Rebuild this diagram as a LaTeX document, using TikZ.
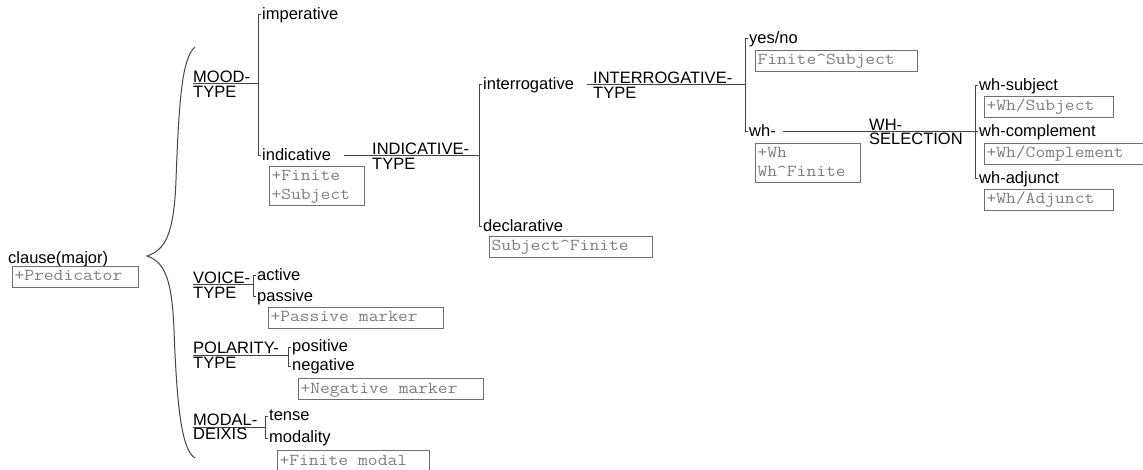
\documentclass[tikz,border=0pt]{standalone}
\usepackage{fontspec}
\setmainfont{Liberation Sans}
\setmonofont{Latin Modern Mono}[FakeStretch = 1.14]
\definecolor{gristrazo}{HTML}{454545}
\definecolor{grisglosa}{HTML}{7E7E7E}
\definecolor{griscaja}{HTML}{707070}
% espacio de una letra en la fuente de las glosas
\newcommand{\hueco}{\hspace*{0.6em}}

\begin{document}
\begin{tikzpicture}[x = 1pt, y = -1pt,
  rasgo/.style = {anchor = west, inner xsep = 1pt, inner ysep = 0pt, text height = 12pt, text depth = 3.5pt, font = \fontsize{16.5}{14.5}\selectfont, text = black},
  sistema/.style = {anchor = west, inner sep = 0pt, align = left, font = \fontsize{16.5}{14.5}\selectfont, text = black},
  glosa/.style = {draw = griscaja, line width = 1pt, anchor = north west, inner xsep = 2pt, inner ysep = 2.5pt, text width = #1, align = left, text height = 12pt, text depth = 4pt, font = \fontsize{16.7}{18.5}\ttfamily, text = grisglosa},
  trazo/.style = {draw = gristrazo, line width = 1pt}]
\useasboundingbox (0,0) rectangle (1143,470);

% La raiz con su llave
\node[rasgo] (clause) at (7,259) {clause(major)};
\node[glosa = 122pt] (predicator) at (12,266) {+Predicator};
\draw[trazo] (195,47) .. controls (182,58) and (179,100) .. (176,180) .. controls (174,235) and (165,250) .. (147,256) .. controls (165,262) and (172,280) .. (174,330) .. controls (177,410) and (182,450) .. (195,458);

% MOOD-TYPE
\node[sistema] (moodtype) at (193,84) {MOOD-\\TYPE};
\coordinate (moodbar) at (258,84);
\node[rasgo] (imperative) at (261,15) {imperative};
\node[rasgo] (indicative) at (261,156) {indicative};
\node[glosa = 91pt, text depth = 22.5pt] (finitesubject) at (269,166) {+Finite\\+Subject};
\draw[trazo] (moodtype.west) -- (moodbar);
\draw[trazo] (imperative.west) -- (imperative.west -| moodbar) -- (indicative.west -| moodbar) -- (indicative.west);

% INDICATIVE-TYPE
\node[sistema] (indicativetype) at (372,156) {INDICATIVE-\\TYPE};
\coordinate (indicativebar) at (479,156);
\node[rasgo] (interrogative) at (482,85) {interrogative};
\node[rasgo] (declarative) at (482,227) {declarative};
\node[glosa = 159pt] (subjfinite) at (489,236) {Subject\textasciicircum Finite};
\draw[trazo] ([xshift = 12pt]indicative.east) -- (indicativebar);
\draw[trazo] (interrogative.west) -- (interrogative.west -| indicativebar) -- (declarative.west -| indicativebar) -- (declarative.west);

% INTERROGATIVE-TYPE
\node[sistema] (interrogativetype) at (593,85) {INTERROGATIVE-\\TYPE};
\coordinate (interrogativebar) at (745,85);
\node[rasgo] (yesno) at (748,39) {yes/no};
\node[rasgo] (wh) at (748,132) {wh-};
\node[glosa = 158pt] (finitesubj) at (755,50) {Finite\textasciicircum Subject};
\node[glosa = 101pt, text depth = 22.5pt] (whfinite) at (755,143) {+Wh\\Wh\textasciicircum Finite};
\draw[trazo] ([xshift = 12pt]interrogative.east) -- (interrogativebar);
\draw[trazo] (yesno.west) -- (yesno.west -| interrogativebar) -- (wh.west -| interrogativebar) -- (wh.west);

% WH-SELECTION
\node[sistema] (whselection) at (869,132) {WH-\\SELECTION};
\coordinate (whbar) at (975,132);
\node[rasgo] (whsubject) at (978,86) {wh-subject};
\node[rasgo] (whcomplement) at (978,132) {wh-complement};
\node[rasgo] (whadjunct) at (978,179) {wh-adjunct};
\node[glosa = 125pt] (whsubj) at (984,96) {+Wh/Subject};
\node[glosa = 171pt] (whcompl) at (984,143) {+Wh/Complement};
\node[glosa = 125pt] (whadj) at (984,189) {+Wh/Adjunct};
\draw[trazo] ([xshift = 6pt]wh.east) -- (whcomplement.west);
\draw[trazo] (whsubject.west) -- (whsubject.west -| whbar) -- (whadjunct.west -| whbar) -- (whadjunct.west);

% VOICE-TYPE
\node[sistema] (voicetype) at (193,285) {VOICE-\\TYPE};
\coordinate (voicebar) at (253,285);
\node[rasgo] (active) at (256,276) {active};
\node[rasgo] (passive) at (256,297) {passive};
\node[glosa = 171pt] (passivemarker) at (268,307) {+Passive\hueco marker};
\draw[trazo] (voicetype.west) -- (voicebar);
\draw[trazo] (active.west) -- (active.west -| voicebar) -- (passive.west -| voicebar) -- (passive.west);

% POLARITY-TYPE
\node[sistema] (polaritytype) at (193,355) {POLARITY-\\TYPE};
\coordinate (polaritybar) at (288,355);
\node[rasgo] (positive) at (291,347) {positive};
\node[rasgo] (negative) at (291,366) {negative};
\node[glosa = 181pt] (negativemarker) at (298,378) {+Negative\hueco marker};
\draw[trazo] (polaritytype.west) -- (polaritybar);
\draw[trazo] (positive.west) -- (positive.west -| polaritybar) -- (negative.west -| polaritybar) -- (negative.west);

% MODAL-DEIXIS
\node[sistema] (modaldeixis) at (193,427) {MODAL-\\DEIXIS};
\coordinate (modalbar) at (265,427);
\node[rasgo] (tense) at (268,416) {tense};
\node[rasgo] (modality) at (268,438) {modality};
\node[glosa = 148pt] (finitemodal) at (277,450) {+Finite\hueco modal};
\draw[trazo] (modaldeixis.west) -- (modalbar);
\draw[trazo] (tense.west) -- (tense.west -| modalbar) -- (modality.west -| modalbar) -- (modality.west);
\end{tikzpicture}
\end{document}
